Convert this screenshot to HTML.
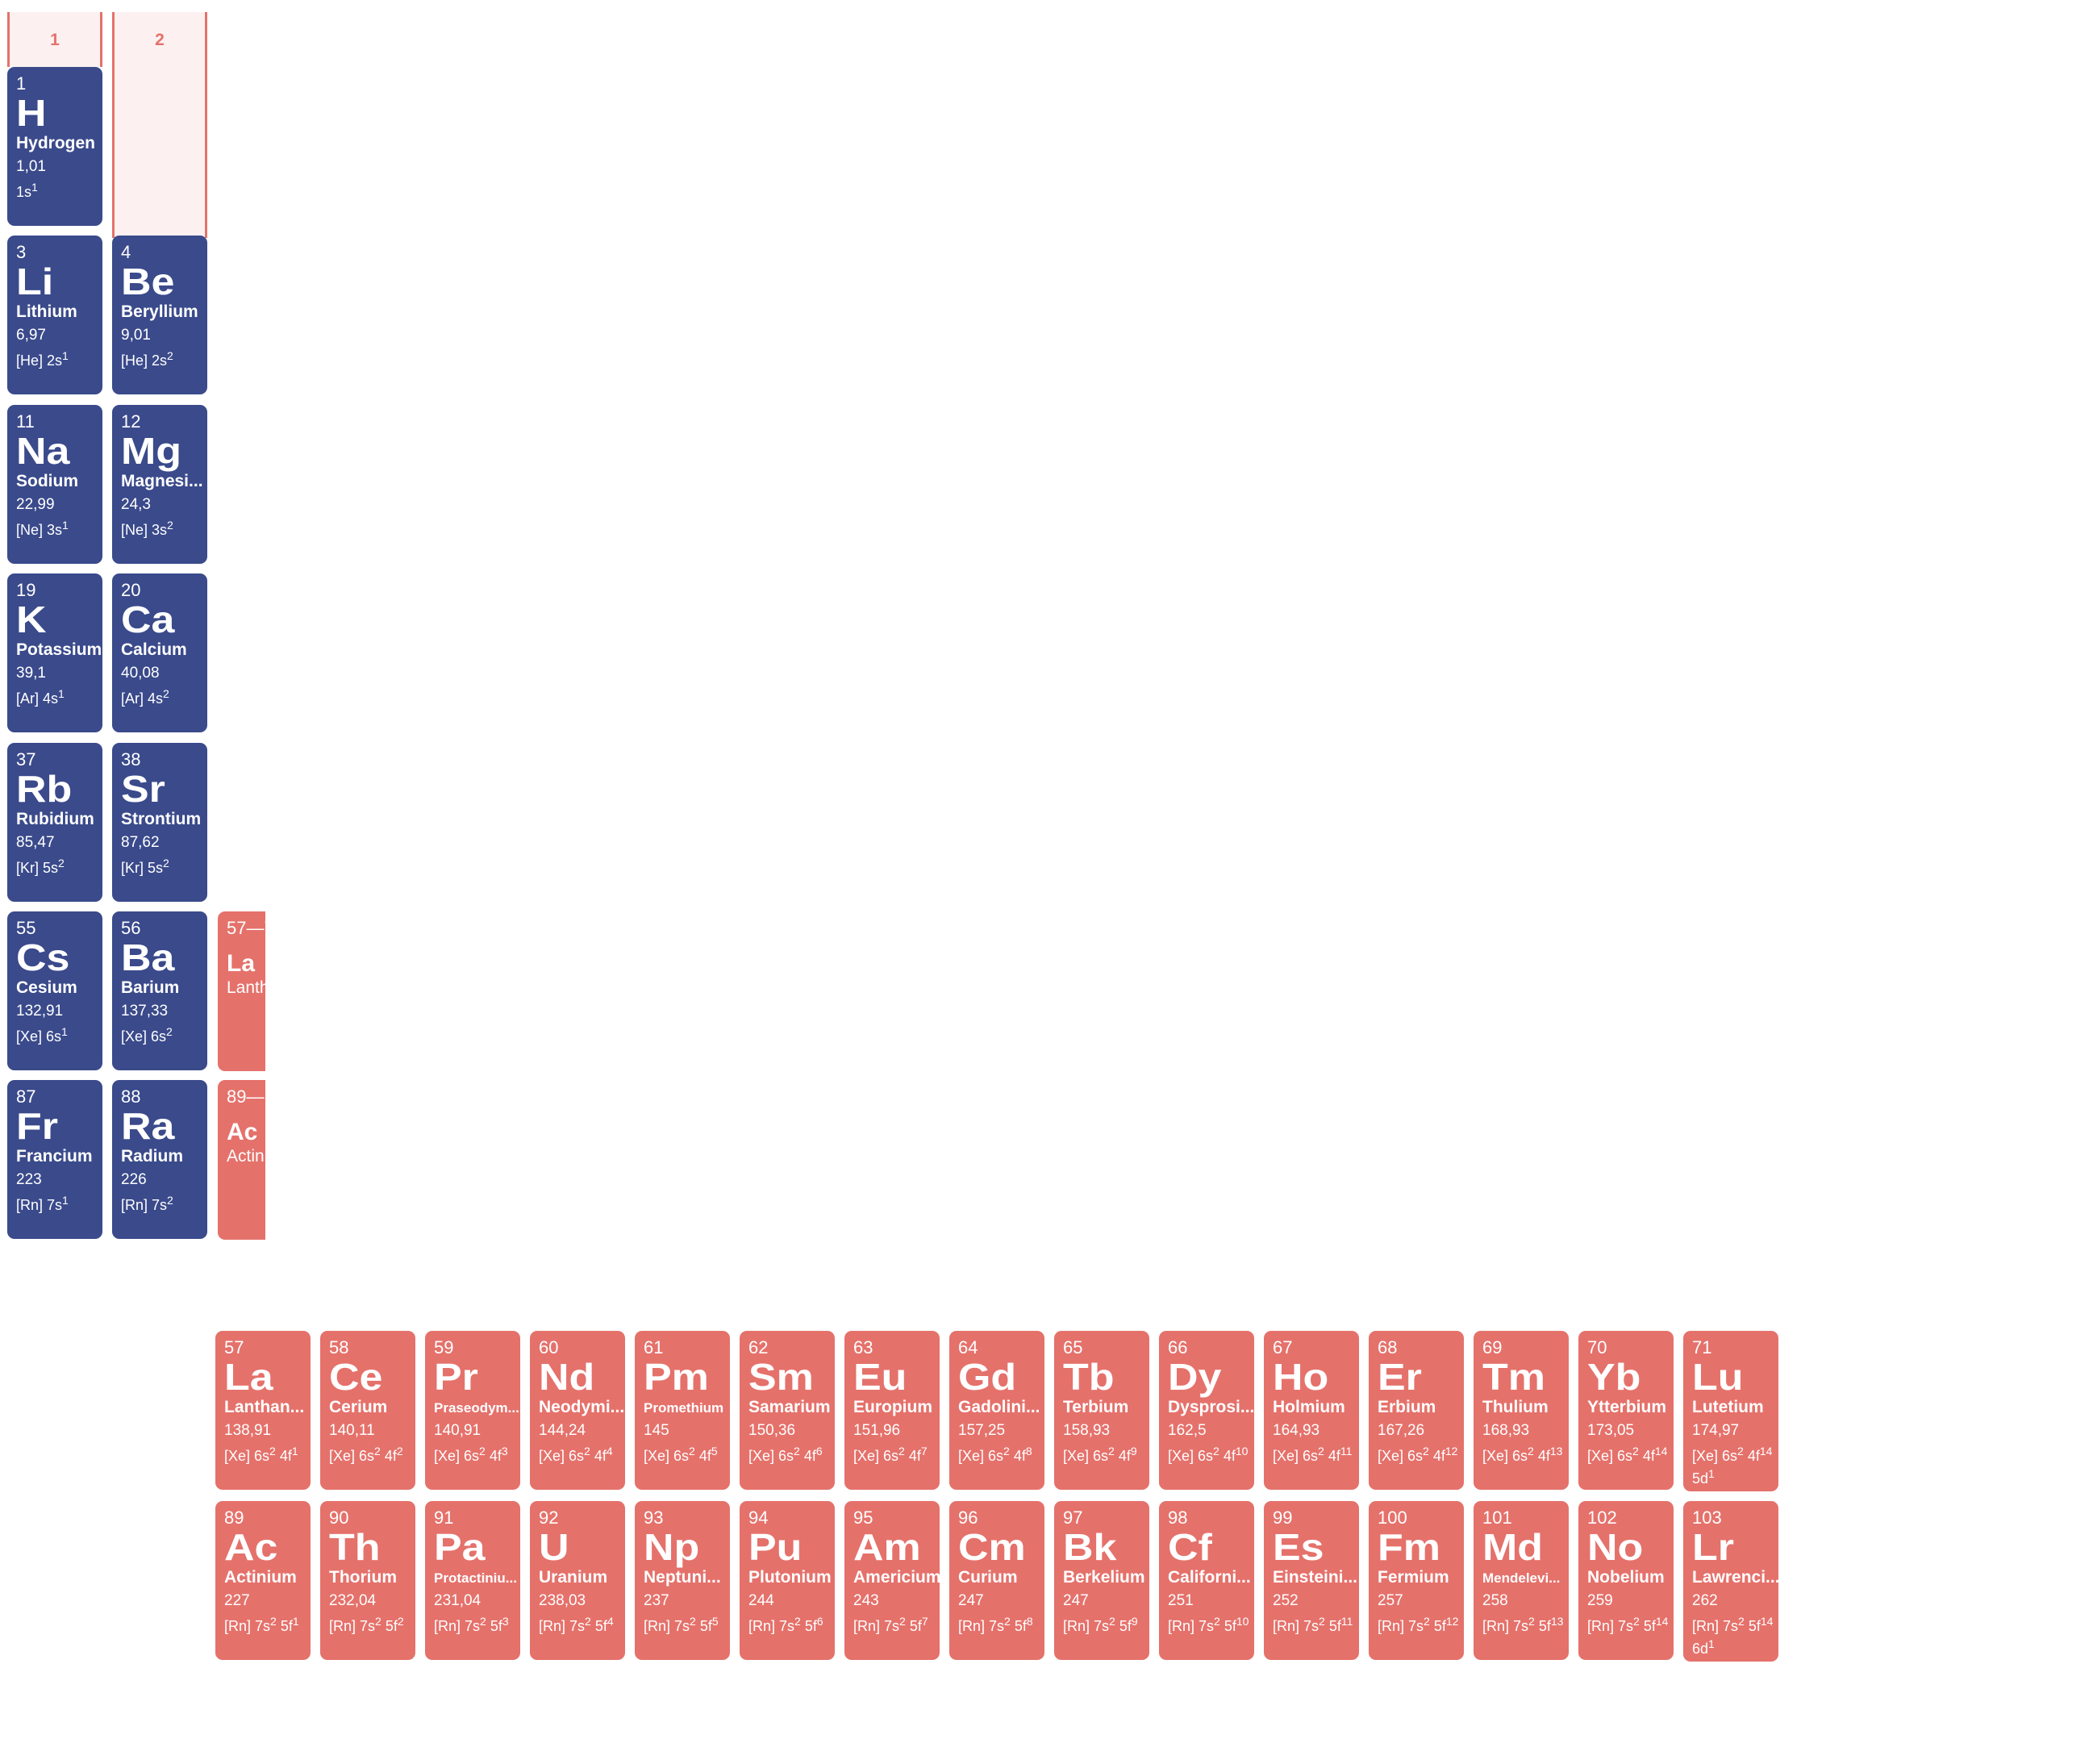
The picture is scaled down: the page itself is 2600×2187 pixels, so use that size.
<!DOCTYPE html>
<html><head><meta charset="utf-8"><style>
html,body{margin:0;padding:0;background:#fff;}
body{width:2600px;height:2187px;position:relative;overflow:hidden;font-family:"Liberation Sans",sans-serif;}
.g{position:absolute;top:15px;width:112px;background:#fcf1f0;border-left:3px solid #e5716b;border-right:3px solid #e5716b;}
.g span{position:absolute;left:0;right:0;top:23px;text-align:center;color:#e5716b;font-weight:bold;font-size:21px;}
.c{position:absolute;width:118px;height:197px;border-radius:9px;color:#fff;overflow:hidden;}
.b{background:#3a4a8b;}
.r{background:#e5716b;}
.c i,.c b,.c u,.c s,.c em{position:absolute;left:11px;font-style:normal;text-decoration:none;white-space:nowrap;line-height:1;}
.c i{top:10px;font-size:22px;}
.c b{top:34px;font-size:46px;font-weight:900;transform:scaleX(1.13);transform-origin:left top;}
.c u{top:84px;font-size:21px;font-weight:bold;}
.c u.sm{font-size:17px;top:87px;}
.c s{top:114px;font-size:19px;}
.c em{top:141px;font-size:18px;line-height:28px;}
.c sup{font-size:14px;vertical-align:7px;line-height:0;}
.p{position:absolute;width:59px;height:198px;border-radius:9px 0 0 9px;background:#e5716b;color:#fff;overflow:hidden;}
.p i,.p b,.p u{position:absolute;left:11px;font-style:normal;text-decoration:none;white-space:nowrap;line-height:1;}
.p i{top:10px;font-size:22px;}
.p b{top:50px;font-size:30px;font-weight:900;}
.p u{top:84px;font-size:21px;}
</style></head><body>
<div class="g" style="left:9px;height:68px"><span>1</span></div>
<div class="g" style="left:139px;height:280px"><span>2</span></div>

<div class="c b" style="left:9px;top:83px"><i>1</i><b>H</b><u>Hydrogen</u><s>1,01</s><em>1s<sup>1</sup></em></div>
<div class="c b" style="left:9px;top:292px"><i>3</i><b>Li</b><u>Lithium</u><s>6,97</s><em>[He] 2s<sup>1</sup></em></div>
<div class="c b" style="left:139px;top:292px"><i>4</i><b>Be</b><u>Beryllium</u><s>9,01</s><em>[He] 2s<sup>2</sup></em></div>
<div class="c b" style="left:9px;top:502px"><i>11</i><b>Na</b><u>Sodium</u><s>22,99</s><em>[Ne] 3s<sup>1</sup></em></div>
<div class="c b" style="left:139px;top:502px"><i>12</i><b>Mg</b><u>Magnesi...</u><s>24,3</s><em>[Ne] 3s<sup>2</sup></em></div>
<div class="c b" style="left:9px;top:711px"><i>19</i><b>K</b><u>Potassium</u><s>39,1</s><em>[Ar] 4s<sup>1</sup></em></div>
<div class="c b" style="left:139px;top:711px"><i>20</i><b>Ca</b><u>Calcium</u><s>40,08</s><em>[Ar] 4s<sup>2</sup></em></div>
<div class="c b" style="left:9px;top:921px"><i>37</i><b>Rb</b><u>Rubidium</u><s>85,47</s><em>[Kr] 5s<sup>2</sup></em></div>
<div class="c b" style="left:139px;top:921px"><i>38</i><b>Sr</b><u>Strontium</u><s>87,62</s><em>[Kr] 5s<sup>2</sup></em></div>
<div class="c b" style="left:9px;top:1130px"><i>55</i><b>Cs</b><u>Cesium</u><s>132,91</s><em>[Xe] 6s<sup>1</sup></em></div>
<div class="c b" style="left:139px;top:1130px"><i>56</i><b>Ba</b><u>Barium</u><s>137,33</s><em>[Xe] 6s<sup>2</sup></em></div>
<div class="c b" style="left:9px;top:1339px"><i>87</i><b>Fr</b><u>Francium</u><s>223</s><em>[Rn] 7s<sup>1</sup></em></div>
<div class="c b" style="left:139px;top:1339px"><i>88</i><b>Ra</b><u>Radium</u><s>226</s><em>[Rn] 7s<sup>2</sup></em></div>

<div class="p" style="left:270px;top:1130px"><i>57—71</i><b>La</b><u>Lanthanides</u></div>
<div class="p" style="left:270px;top:1339px"><i>89—103</i><b>Ac</b><u>Actinides</u></div>

<div class="c r" style="left:267px;top:1650px"><i>57</i><b>La</b><u>Lanthan...</u><s>138,91</s><em>[Xe] 6s<sup>2</sup> 4f<sup>1</sup></em></div>
<div class="c r" style="left:397px;top:1650px"><i>58</i><b>Ce</b><u>Cerium</u><s>140,11</s><em>[Xe] 6s<sup>2</sup> 4f<sup>2</sup></em></div>
<div class="c r" style="left:527px;top:1650px"><i>59</i><b>Pr</b><u class="sm">Praseodym...</u><s>140,91</s><em>[Xe] 6s<sup>2</sup> 4f<sup>3</sup></em></div>
<div class="c r" style="left:657px;top:1650px"><i>60</i><b>Nd</b><u>Neodymi...</u><s>144,24</s><em>[Xe] 6s<sup>2</sup> 4f<sup>4</sup></em></div>
<div class="c r" style="left:787px;top:1650px"><i>61</i><b>Pm</b><u class="sm">Promethium</u><s>145</s><em>[Xe] 6s<sup>2</sup> 4f<sup>5</sup></em></div>
<div class="c r" style="left:917px;top:1650px"><i>62</i><b>Sm</b><u>Samarium</u><s>150,36</s><em>[Xe] 6s<sup>2</sup> 4f<sup>6</sup></em></div>
<div class="c r" style="left:1047px;top:1650px"><i>63</i><b>Eu</b><u>Europium</u><s>151,96</s><em>[Xe] 6s<sup>2</sup> 4f<sup>7</sup></em></div>
<div class="c r" style="left:1177px;top:1650px"><i>64</i><b>Gd</b><u>Gadolini...</u><s>157,25</s><em>[Xe] 6s<sup>2</sup> 4f<sup>8</sup></em></div>
<div class="c r" style="left:1307px;top:1650px"><i>65</i><b>Tb</b><u>Terbium</u><s>158,93</s><em>[Xe] 6s<sup>2</sup> 4f<sup>9</sup></em></div>
<div class="c r" style="left:1437px;top:1650px"><i>66</i><b>Dy</b><u>Dysprosi...</u><s>162,5</s><em>[Xe] 6s<sup>2</sup> 4f<sup>10</sup></em></div>
<div class="c r" style="left:1567px;top:1650px"><i>67</i><b>Ho</b><u>Holmium</u><s>164,93</s><em>[Xe] 6s<sup>2</sup> 4f<sup>11</sup></em></div>
<div class="c r" style="left:1697px;top:1650px"><i>68</i><b>Er</b><u>Erbium</u><s>167,26</s><em>[Xe] 6s<sup>2</sup> 4f<sup>12</sup></em></div>
<div class="c r" style="left:1827px;top:1650px"><i>69</i><b>Tm</b><u>Thulium</u><s>168,93</s><em>[Xe] 6s<sup>2</sup> 4f<sup>13</sup></em></div>
<div class="c r" style="left:1957px;top:1650px"><i>70</i><b>Yb</b><u>Ytterbium</u><s>173,05</s><em>[Xe] 6s<sup>2</sup> 4f<sup>14</sup></em></div>
<div class="c r" style="left:2087px;top:1650px;height:199px"><i>71</i><b>Lu</b><u>Lutetium</u><s>174,97</s><em>[Xe] 6s<sup>2</sup> 4f<sup>14</sup><br>5d<sup>1</sup></em></div>

<div class="c r" style="left:267px;top:1861px"><i>89</i><b>Ac</b><u>Actinium</u><s>227</s><em>[Rn] 7s<sup>2</sup> 5f<sup>1</sup></em></div>
<div class="c r" style="left:397px;top:1861px"><i>90</i><b>Th</b><u>Thorium</u><s>232,04</s><em>[Rn] 7s<sup>2</sup> 5f<sup>2</sup></em></div>
<div class="c r" style="left:527px;top:1861px"><i>91</i><b>Pa</b><u class="sm">Protactiniu...</u><s>231,04</s><em>[Rn] 7s<sup>2</sup> 5f<sup>3</sup></em></div>
<div class="c r" style="left:657px;top:1861px"><i>92</i><b>U</b><u>Uranium</u><s>238,03</s><em>[Rn] 7s<sup>2</sup> 5f<sup>4</sup></em></div>
<div class="c r" style="left:787px;top:1861px"><i>93</i><b>Np</b><u>Neptuni...</u><s>237</s><em>[Rn] 7s<sup>2</sup> 5f<sup>5</sup></em></div>
<div class="c r" style="left:917px;top:1861px"><i>94</i><b>Pu</b><u>Plutonium</u><s>244</s><em>[Rn] 7s<sup>2</sup> 5f<sup>6</sup></em></div>
<div class="c r" style="left:1047px;top:1861px"><i>95</i><b>Am</b><u>Americium</u><s>243</s><em>[Rn] 7s<sup>2</sup> 5f<sup>7</sup></em></div>
<div class="c r" style="left:1177px;top:1861px"><i>96</i><b>Cm</b><u>Curium</u><s>247</s><em>[Rn] 7s<sup>2</sup> 5f<sup>8</sup></em></div>
<div class="c r" style="left:1307px;top:1861px"><i>97</i><b>Bk</b><u>Berkelium</u><s>247</s><em>[Rn] 7s<sup>2</sup> 5f<sup>9</sup></em></div>
<div class="c r" style="left:1437px;top:1861px"><i>98</i><b>Cf</b><u>Californi...</u><s>251</s><em>[Rn] 7s<sup>2</sup> 5f<sup>10</sup></em></div>
<div class="c r" style="left:1567px;top:1861px"><i>99</i><b>Es</b><u>Einsteini...</u><s>252</s><em>[Rn] 7s<sup>2</sup> 5f<sup>11</sup></em></div>
<div class="c r" style="left:1697px;top:1861px"><i>100</i><b>Fm</b><u>Fermium</u><s>257</s><em>[Rn] 7s<sup>2</sup> 5f<sup>12</sup></em></div>
<div class="c r" style="left:1827px;top:1861px"><i>101</i><b>Md</b><u class="sm">Mendelevi...</u><s>258</s><em>[Rn] 7s<sup>2</sup> 5f<sup>13</sup></em></div>
<div class="c r" style="left:1957px;top:1861px"><i>102</i><b>No</b><u>Nobelium</u><s>259</s><em>[Rn] 7s<sup>2</sup> 5f<sup>14</sup></em></div>
<div class="c r" style="left:2087px;top:1861px;height:199px"><i>103</i><b>Lr</b><u>Lawrenci...</u><s>262</s><em>[Rn] 7s<sup>2</sup> 5f<sup>14</sup><br>6d<sup>1</sup></em></div>
</body></html>
